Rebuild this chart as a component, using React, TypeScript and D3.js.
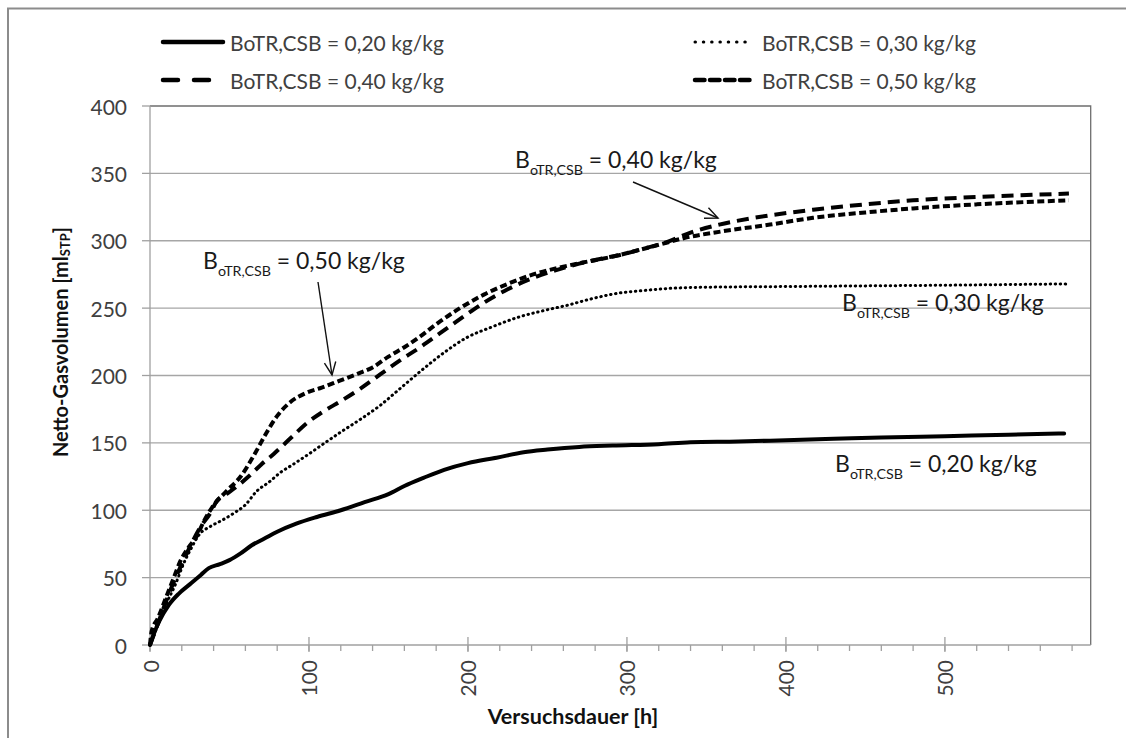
import React from "react";
import * as d3 from "d3";

// Netto-Gasvolumen [ml] over Versuchsdauer [h] for four BoTR,CSB loadings
const series020: [number, number][] = [
  [0, 0], [3, 10], [6, 18], [12, 30], [18, 38], [25, 45], [32, 52], [37, 57], [44, 60], [50, 63],
  [57, 68], [64, 74], [72, 79], [80, 84], [92, 90], [105, 95], [120, 100], [135, 106], [150, 112],
  [160, 118], [172, 124], [185, 130], [200, 135], [218, 139], [235, 143], [250, 145], [270, 147],
  [291, 148], [320, 149], [340, 150.5], [370, 151], [400, 152], [430, 153], [460, 154], [500, 155],
  [540, 156], [575, 157],
];
const series030: [number, number][] = [
  [0, 0], [5, 15], [10, 30], [16, 45], [21, 60], [26, 72], [31, 82], [38, 88], [46, 93], [53, 98],
  [60, 104], [67, 114], [75, 121], [82, 128], [90, 134], [99, 141], [110, 150], [120, 158], [133, 168],
  [145, 178], [157, 190], [170, 203], [185, 217], [199, 228], [215, 236], [231, 243], [247, 248],
  [262, 252], [278, 257], [294, 261], [310, 263], [325, 264.5], [350, 265.5], [400, 266], [450, 266.5],
  [500, 267], [578, 268],
];
const series040: [number, number][] = [
  [0, 0], [5, 16], [10, 32], [15, 47], [20, 60], [26, 75], [32, 88], [38, 98], [42, 107], [48, 112],
  [55, 118], [62, 125], [70, 134], [78, 142], [88, 153], [99, 165], [110, 174], [120, 181], [132, 190],
  [145, 201], [157, 211], [170, 221], [182, 231], [200, 246], [210, 254], [225, 264], [240, 272],
  [255, 278], [270, 283], [285, 287], [294, 289], [310, 294], [325, 299], [340, 306], [358, 312],
  [380, 317], [417, 323], [450, 327], [480, 330], [520, 332.5], [578, 335],
];
const series050: [number, number][] = [
  [0, 0], [1, 10], [5, 20], [10, 35], [15, 50], [19, 62], [24, 72], [29, 80], [34, 92], [39, 102],
  [48, 114], [57, 125], [65, 140], [73, 157], [80, 170], [88, 180], [98, 187], [108, 191], [119, 196],
  [130, 201], [140, 206], [150, 214], [160, 221], [170, 229], [180, 238], [195, 250], [210, 260],
  [225, 268], [241, 275], [257, 280], [273, 284], [290, 288], [304, 292], [320, 297], [336, 302],
  [360, 307], [390, 312], [417, 317], [450, 321], [480, 324], [520, 327], [578, 330],
];

const legendLabels = [
  "BoTR,CSB = 0,20 kg/kg",
  "BoTR,CSB = 0,30 kg/kg",
  "BoTR,CSB = 0,40 kg/kg",
  "BoTR,CSB = 0,50 kg/kg",
];
const annotationValues = ["0,20", "0,30", "0,40", "0,50"];
const yTicks = [0, 50, 100, 150, 200, 250, 300, 350, 400];
const xTicks = [0, 100, 200, 300, 400, 500];
const xMinorTicks = d3.range(0, 592, 20);

const FONT = "Lato, 'Open Sans', sans-serif";

type Style = { width: number; dash: string | null; cap: "round" | "butt" };
const styles: Style[] = [
  { width: 4, dash: null, cap: "round" },
  { width: 3, dash: "0.5 4.5", cap: "round" },
  { width: 4, dash: "12 7", cap: "butt" },
  { width: 4, dash: "7 3.5", cap: "butt" },
];
const legendStyles: Style[] = [
  { width: 4.5, dash: null, cap: "round" },
  { width: 3, dash: "0.5 7.8", cap: "round" },
  { width: 4.5, dash: "15 16", cap: "round" },
  { width: 4.5, dash: "9.5 5.5", cap: "round" },
];

function Label({ x, y, value, size = 23 }: { x: number; y: number; value: string; size?: number }) {
  return (
    <text x={x} y={y} fontFamily={FONT} fontSize={size} fill="#1a1a1a">
      B
      <tspan fontSize={size * 0.62} dy={size * 0.3}>oTR,CSB</tspan>
      <tspan dy={-size * 0.3}>{` = ${value} kg/kg`}</tspan>
    </text>
  );
}

function Arrow({ x1, y1, x2, y2 }: { x1: number; y1: number; x2: number; y2: number }) {
  const a = Math.atan2(y2 - y1, x2 - x1);
  const L = 14;
  const s = 0.42;
  const p1 = [x2 - L * Math.cos(a - s), y2 - L * Math.sin(a - s)];
  const p2 = [x2 - L * Math.cos(a + s), y2 - L * Math.sin(a + s)];
  return (
    <g stroke="#111" strokeWidth={1.4} fill="none">
      <line x1={x1} y1={y1} x2={x2} y2={y2} />
      <polyline points={`${p1[0]},${p1[1]} ${x2},${y2} ${p2[0]},${p2[1]}`} />
    </g>
  );
}

export default function App() {
  const x = d3.scaleLinear().domain([0, 591.7]).range([150, 1090.7]);
  const y = d3.scaleLinear().domain([0, 400]).range([645, 106]);
  const line = d3
    .line<[number, number]>()
    .x((d) => x(d[0]))
    .y((d) => y(d[1]))
    .curve(d3.curveMonotoneX);
  const allSeries = [series020, series030, series040, series050];

  const legendPos = [
    { x1: 163, x2: 223, ly: 42, tx: 230 },
    { x1: 695, x2: 753, ly: 42, tx: 762 },
    { x1: 163, x2: 210, ly: 80, tx: 230 },
    { x1: 695, x2: 753, ly: 80, tx: 762 },
  ];

  return (
    <svg
      width={1126}
      height={738}
      style={{ position: "absolute", left: 0, top: 0, background: "#fff" }}
    >
      {/* chart frame */}
      <rect x={8} y={8.5} width={1200} height={800} fill="#fff" stroke="#8c8c8c" strokeWidth={2} />

      {/* gridlines */}
      {yTicks.slice(1, -1).map((t) => (
        <line key={t} x1={x(0)} x2={x(591.7)} y1={y(t)} y2={y(t)} stroke="#a6a6a6" strokeWidth={1.3} />
      ))}
      {/* plot area border */}
      <polyline
        points={`${x(0)},${y(400)} ${x(591.7)},${y(400)} ${x(591.7)},${y(0)}`}
        fill="none"
        stroke="#6e6e6e"
        strokeWidth={1.3}
      />

      {/* axes */}
      <line x1={x(0)} x2={x(0)} y1={y(0)} y2={y(400)} stroke="#a0a0a0" strokeWidth={1.3} />
      <line x1={x(0)} x2={x(591.7)} y1={y(0)} y2={y(0)} stroke="#a0a0a0" strokeWidth={1.3} />
      {yTicks.map((t) => (
        <g key={t}>
          <line x1={x(0) - 8} x2={x(0)} y1={y(t)} y2={y(t)} stroke="#a0a0a0" strokeWidth={1.3} />
          <text
            x={127}
            y={y(t)}
            textAnchor="end"
            dominantBaseline="central"
            fontFamily={FONT}
            fontSize={21}
            fill="#404040"
          >
            {t}
          </text>
        </g>
      ))}
      {xMinorTicks.map((t) => (
        <line key={t} x1={x(t)} x2={x(t)} y1={y(0)} y2={y(0) + 6} stroke="#a0a0a0" strokeWidth={1.3} />
      ))}
      {xTicks.map((t) => (
        <g key={t}>
          <line x1={x(t)} x2={x(t)} y1={y(0) - 8} y2={y(0) + 7} stroke="#a0a0a0" strokeWidth={1.3} />
          <text
            transform={`translate(${x(t)},660) rotate(-90)`}
            textAnchor="end"
            dominantBaseline="central"
            fontFamily={FONT}
            fontSize={21}
            fill="#404040"
          >
            {t}
          </text>
        </g>
      ))}

      {/* axis titles */}
      <text
        transform="translate(60,342) rotate(-90)"
        textAnchor="middle"
        dominantBaseline="central"
        fontFamily={FONT}
        fontWeight="bold"
        fontSize={20}
        fill="#111"
      >
        Netto-Gasvolumen [ml
        <tspan fontSize={13} dy={5}>STP</tspan>
        <tspan dy={-5}>]</tspan>
      </text>
      <text x={573} y={724} textAnchor="middle" fontFamily={FONT} fontWeight="bold" fontSize={21.5} fill="#111">
        Versuchsdauer [h]
      </text>

      {/* data */}
      {allSeries.map((s, i) => (
        <path
          key={i}
          d={line(s) ?? ""}
          fill="none"
          stroke="#000"
          strokeWidth={styles[i].width}
          strokeDasharray={styles[i].dash ?? undefined}
          strokeLinecap={styles[i].cap}
          strokeLinejoin="round"
        />
      ))}

      {/* legend */}
      {legendLabels.map((lab, i) => (
        <g key={lab}>
          <line
            x1={legendPos[i].x1}
            x2={legendPos[i].x2}
            y1={legendPos[i].ly}
            y2={legendPos[i].ly}
            stroke="#000"
            strokeWidth={legendStyles[i].width}
            strokeDasharray={legendStyles[i].dash ?? undefined}
            strokeLinecap={legendStyles[i].cap}
          />
          <text
            x={legendPos[i].tx}
            y={legendPos[i].ly}
            dominantBaseline="central"
            fontFamily={FONT}
            fontSize={21}
            fill="#404040"
          >
            {lab}
          </text>
        </g>
      ))}

      {/* annotations */}
      <Label x={835} y={472} value={annotationValues[0]} />
      <Label x={842} y={311} value={annotationValues[1]} />
      <Label x={515} y={168} value={annotationValues[2]} />
      <Label x={203} y={269} value={annotationValues[3]} />
      <Arrow x1={633} y1={182} x2={718} y2={218} />
      <Arrow x1={318} y1={282} x2={332} y2={375} />
    </svg>
  );
}
